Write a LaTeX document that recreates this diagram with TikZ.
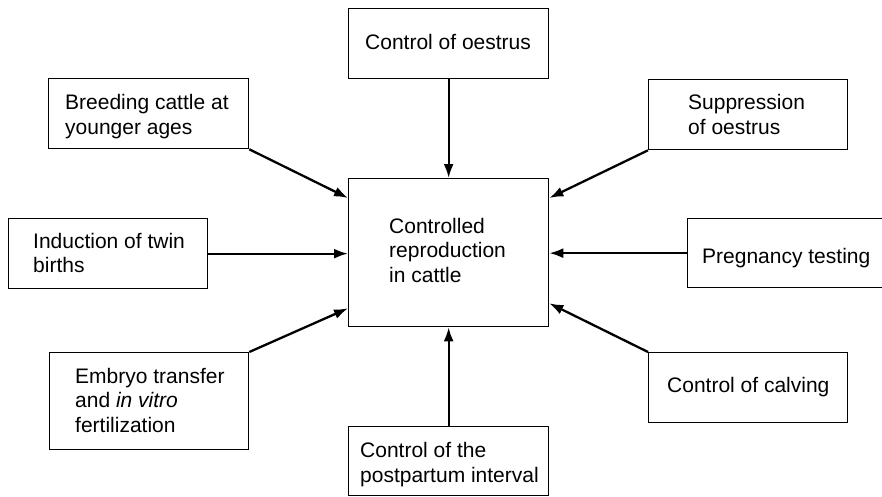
\documentclass[tikz,border=0pt]{standalone}
\usepackage{fontspec}
\setmainfont{Liberation Sans}
\usetikzlibrary{arrows.meta}
\begin{document}
\begin{tikzpicture}[x=1pt,y=-1pt,
  box/.style={draw,line width=1.3pt,inner sep=0pt,anchor=north west},
  lbl/.style={inner sep=0pt,anchor=base west,align=left,font=\fontsize{21}{24.5}\selectfont},
  arr/.style={line width=2.3pt,-{Latex[length=14pt,width=10pt]}}]
\useasboundingbox (0,0) rectangle (882,497);
% boxes
\node[box,minimum width=200pt,minimum height=70pt] (oest) at (348,8) {};
\node[box,minimum width=200pt,minimum height=70pt] (breed) at (48,78) {};
\node[box,minimum width=199pt,minimum height=70pt] (supp) at (648,79) {};
\node[box,minimum width=200pt,minimum height=148pt] (center) at (348,178) {};
\node[box,minimum width=199pt,minimum height=70pt] (induct) at (8,218) {};
\node[box,minimum width=200pt,minimum height=69pt] (preg) at (687,218) {};
\node[box,minimum width=199pt,minimum height=97pt] (embryo) at (49,352) {};
\node[box,minimum width=199pt,minimum height=70pt] (calv) at (648,352) {};
\node[box,minimum width=200pt,minimum height=69pt] (post) at (348,426) {};
% texts (base anchor = baseline of last line)
\node[lbl] (toest) at (365,50) {Control of oestrus};
\node[lbl] (tbreed) at (65,134.5) {Breeding cattle at\\younger ages};
\node[lbl] (tsupp) at (688,134.5) {Suppression\\of oestrus};
\node[lbl] (tcenter) at (389,282) {Controlled\\reproduction\\in cattle};
\node[lbl] (tinduct) at (33,272.5) {Induction of twin\\births};
\node[lbl] (tpreg) at (702,263) {Pregnancy testing};
\node[lbl] (tembryo) at (75,432) {Embryo transfer\\and \textit{in vitro}\\fertilization};
\node[lbl] (tcalv) at (667,392) {Control of calving};
\node[lbl] (tpost) at (360,482) {Control of the\\postpartum interval};
% connectors
\draw[arr] (oest.south) -- (center.north);
\draw[arr] (post.north) -- (center.south);
\draw[arr] (breed.south east) -- ([yshift=-20pt]center.north west);
\draw[arr] (supp.south west) -- ([yshift=-20pt]center.north east);
\draw[arr] (induct.east) -- (induct.east -| center.west);
\draw[arr] (preg.west) -- (preg.west -| center.east);
\draw[arr] (embryo.north east) -- ([yshift=19pt]center.south west);
\draw[arr] (calv.north west) -- ([yshift=24pt]center.south east);
\end{tikzpicture}
\end{document}
